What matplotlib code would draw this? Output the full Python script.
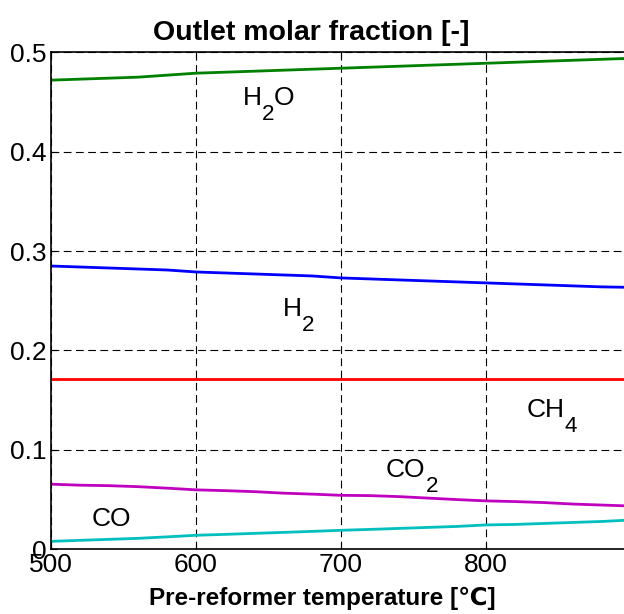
import numpy as np
import matplotlib
matplotlib.use('Agg')
import matplotlib.pyplot as plt

plt.rcParams['font.family'] = ['Liberation Sans', 'DejaVu Sans']

# pre-reformer temperature [C]
temps = [500, 520, 540, 560, 580, 600, 620, 640, 660, 680, 700,
         720, 740, 760, 780, 800, 820, 840, 860, 880, 900]

# outlet molar fractions
h2o = [0.472, 0.473, 0.474, 0.475, 0.477, 0.479, 0.480, 0.481, 0.482, 0.483, 0.484,
       0.485, 0.486, 0.487, 0.488, 0.489, 0.490, 0.491, 0.492, 0.493, 0.494]
h2 = [0.285, 0.284, 0.283, 0.282, 0.281, 0.279, 0.278, 0.277, 0.276, 0.275, 0.273,
      0.272, 0.271, 0.270, 0.269, 0.268, 0.267, 0.266, 0.265, 0.264, 0.2635]
ch4 = [0.171] * 21
co2 = [0.0655, 0.0645, 0.064, 0.063, 0.0615, 0.0598, 0.059, 0.058, 0.0565, 0.0555, 0.0543,
       0.054, 0.053, 0.0515, 0.050, 0.0487, 0.048, 0.047, 0.0455, 0.0445, 0.0435]
co = [0.008, 0.009, 0.010, 0.011, 0.0125, 0.0141, 0.015, 0.016, 0.017, 0.018, 0.0191,
      0.020, 0.021, 0.022, 0.023, 0.0245, 0.025, 0.026, 0.027, 0.028, 0.0295]

fig = plt.figure(figsize=(6.24, 6.14), dpi=100)
# axes runs a bit past the right edge like the original export
ax = fig.add_axes([0.0817, 0.1054, 0.9295, 0.8094])

ax.plot(temps, h2o, color=(0, 0.5, 0), lw=2)
ax.plot(temps, h2, color=(0, 0, 1), lw=2)
ax.plot(temps, ch4, color=(1, 0, 0), lw=2)
ax.plot(temps, co2, color=(0.75, 0, 0.75), lw=2)
ax.plot(temps, co, color=(0, 0.75, 0.75), lw=2)

fs = 19
drop = 11  # points, matlab style big subscript


def chem(x, y, parts):
    # parts: list of (string, is_subscript)
    prev = ax.text(x, y, parts[0][0], fontsize=fs, ha='left', va='baseline')
    prev_sub = False
    for s, sub in parts[1:]:
        if sub:
            dy = -drop
            size = fs * 0.85
        else:
            dy = drop if prev_sub else 0
            size = fs
        prev = ax.annotate(s, xy=(1, 0), xycoords=prev, xytext=(0, dy),
                           textcoords='offset points', fontsize=size,
                           ha='left', va='bottom')
        prev_sub = sub


chem(632, 0.447, [('H', False), ('2', True), ('O', False)])
chem(660, 0.235, [('H', False), ('2', True)])
chem(828, 0.1335, [('CH', False), ('4', True)])
chem(731, 0.073, [('CO', False), ('2', True)])
chem(528, 0.0234, [('CO', False)])

ax.set_xlim(500, 900)
ax.set_ylim(0, 0.5)
ax.set_xticks([500, 600, 700, 800])
ax.set_yticks([0, 0.1, 0.2, 0.3, 0.4, 0.5])
ax.set_yticklabels(['0', '0.1', '0.2', '0.3', '0.4', '0.5'])
ax.tick_params(direction='in', labelsize=19, length=4, pad=3, top=True, right=True)
ax.grid(True, color='black', linestyle=(0, (7, 4)), lw=0.8)
for s in ax.spines.values():
    s.set_linewidth(1.2)

ax.set_title('Outlet molar fraction [-]', fontsize=20.5, fontweight='bold', pad=9, x=0.448)
ax.set_xlabel('Pre-reformer temperature [\u2103]', fontsize=17.5, fontweight='bold', labelpad=7, x=0.467)

fig.savefig('out.png', dpi=100)
